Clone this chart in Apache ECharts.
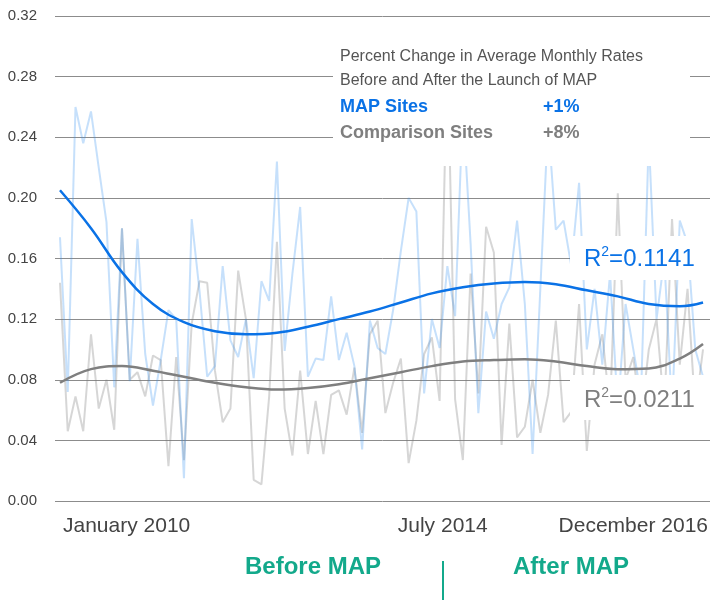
<!DOCTYPE html>
<html><head><meta charset="utf-8">
<script src="https://cdn.jsdelivr.net/npm/echarts@6/dist/echarts.min.js"></script>
<style>html,body{margin:0;padding:0;background:#fff}#c{width:727px;height:600px}</style>
</head><body><div id="c"></div>
<script>
// Monthly rates, January 2010 .. December 2016 (84 months)
const mapSites = [
  0.174,0.072,0.260,0.236,0.257,0.220,0.184,0.075,0.180,0.079,
  0.173,0.097,0.063,0.093,0.126,0.120,0.015,0.186,0.139,0.082,
  0.089,0.155,0.106,0.095,0.120,0.081,0.145,0.132,0.224,0.099,
  0.150,0.194,0.082,0.094,0.093,0.135,0.093,0.111,0.089,0.034,
  0.119,0.101,0.097,0.126,0.165,0.200,0.191,0.071,0.120,0.101,
  0.155,0.122,0.260,0.170,0.058,0.125,0.107,0.130,0.141,0.185,
  0.130,0.031,0.140,0.250,0.179,0.185,0.155,0.210,0.100,0.140,
  0.090,0.150,0.060,0.130,0.100,0.070,0.240,0.120,0.160,0.060,
  0.185,0.170,0.100,0.082
];
const comparisonSites = [
  0.144,0.046,0.069,0.046,0.110,0.061,0.080,0.047,0.180,0.080,
  0.085,0.069,0.096,0.093,0.023,0.095,0.027,0.117,0.145,0.144,
  0.086,0.052,0.061,0.152,0.120,0.014,0.011,0.069,0.171,0.061,
  0.030,0.086,0.031,0.066,0.031,0.070,0.073,0.057,0.088,0.045,
  0.110,0.119,0.058,0.078,0.094,0.025,0.053,0.097,0.108,0.066,
  0.300,0.067,0.027,0.150,0.071,0.181,0.164,0.037,0.117,0.042,
  0.049,0.080,0.045,0.070,0.119,0.052,0.059,0.130,0.033,0.090,
  0.110,0.060,0.203,0.080,0.095,0.055,0.100,0.120,0.060,0.186,
  0.090,0.140,0.060,0.100
];
// Fitted trend curves read at these month indices
const trendIdx = [0,4,8,12,16,20,24,28,32,36,40,44,48,52,56,60,64,68,72,76,80,83];
const mapTrend = [0.205,0.180,0.151,0.130,0.118,0.112,0.110,0.111,0.115,0.120,0.125,
  0.131,0.137,0.141,0.1435,0.1445,0.143,0.139,0.135,0.130,0.1285,0.131];
const compTrend = [0.078,0.087,0.089,0.086,0.082,0.078,0.075,0.0735,0.0745,0.077,0.081,
  0.085,0.089,0.092,0.093,0.0935,0.092,0.089,0.087,0.0875,0.094,0.1036];
const xTickLabels = ['January 2010','July 2014','December 2016'];
const xTickMonth = [8.6, 49.4, 74];
const yMin = 0, yMax = 0.32, yStep = 0.04;
const headerLines = ['Percent Change in Average Monthly Rates','Before and After the Launch of MAP'];
const seriesNames = ['MAP Sites','Comparison Sites'];
const changes = ['+1%','+8%'];
const r2Values = ['0.1141','0.0211'];
const periodLabels = ['Before MAP','After MAP'];

const BLUE = '#0a72e6', GRAY = '#7f7f7f', TEAL = '#13a98b';
const chart = echarts.init(document.getElementById('c'));
const pairs = (xs, ys) => ys.map((v, i) => [xs ? xs[i] : i, v]);
const FONT = 'Liberation Sans, Arial, sans-serif';
const r2Rich = c => ({
  a: { fill: c, fontSize: 24, fontFamily: FONT, verticalAlign: 'bottom', lineHeight: 26 },
  s: { fill: c, fontSize: 14, fontFamily: FONT, verticalAlign: 'top', lineHeight: 26 }
});

chart.setOption({
  animation: false,
  backgroundColor: '#fff',
  grid: { left: 55, right: 17, top: 16, bottom: 99 },
  xAxis: {
    type: 'value', min: -0.645, max: 83.9,
    axisLine: { show: false }, axisTick: { show: false }, splitLine: { show: false },
    axisLabel: {
      customValues: xTickMonth,
      formatter: v => xTickLabels[xTickMonth.indexOf(v)] || '',
      color: '#444', fontSize: 21, fontFamily: FONT, margin: 15
    }
  },
  yAxis: {
    type: 'value', min: yMin, max: yMax, interval: yStep,
    axisLine: { show: false }, axisTick: { show: false },
    axisLabel: { formatter: v => v.toFixed(2), color: '#444', fontSize: 15, fontFamily: FONT, margin: 18 },
    splitLine: { lineStyle: { color: '#8c8c8c', width: 1 } }
  },
  series: [
    { type: 'line', name: seriesNames[1], data: pairs(null, comparisonSites), showSymbol: false,
      lineStyle: { color: 'rgba(120,120,120,0.3)', width: 2 }, z: 2 },
    { type: 'line', name: seriesNames[0], data: pairs(null, mapSites), showSymbol: false,
      lineStyle: { color: 'rgba(50,145,240,0.28)', width: 2 }, z: 2 },
    { type: 'line', data: pairs(trendIdx, compTrend), smooth: 0.4, showSymbol: false,
      lineStyle: { color: GRAY, width: 2.5 }, z: 3 },
    { type: 'line', data: pairs(trendIdx, mapTrend), smooth: 0.4, showSymbol: false,
      lineStyle: { color: BLUE, width: 2.5 }, z: 3 }
  ],
  graphic: [
    { type: 'rect', z: 50, shape: { x: 333, y: 38, width: 357, height: 128 }, style: { fill: '#fff' } },
    { type: 'rect', z: 50, shape: { x: 570, y: 236, width: 145, height: 44 }, style: { fill: '#fff' } },
    { type: 'rect', z: 50, shape: { x: 570, y: 375, width: 145, height: 45 }, style: { fill: '#fff' } },
    { type: 'text', z: 60, x: 340, y: 57, style: { text: headerLines[0], fill: '#555', font: '16px ' + FONT, verticalAlign: 'middle' } },
    { type: 'text', z: 60, x: 340, y: 81, style: { text: headerLines[1], fill: '#555', font: '16px ' + FONT, verticalAlign: 'middle' } },
    { type: 'text', z: 60, x: 340, y: 107, style: { text: seriesNames[0], fill: BLUE, font: 'bold 18px ' + FONT, verticalAlign: 'middle' } },
    { type: 'text', z: 60, x: 543, y: 107, style: { text: changes[0], fill: BLUE, font: 'bold 18px ' + FONT, verticalAlign: 'middle' } },
    { type: 'text', z: 60, x: 340, y: 133, style: { text: seriesNames[1], fill: GRAY, font: 'bold 18px ' + FONT, verticalAlign: 'middle' } },
    { type: 'text', z: 60, x: 543, y: 133, style: { text: changes[1], fill: GRAY, font: 'bold 18px ' + FONT, verticalAlign: 'middle' } },
    { type: 'text', z: 60, x: 584, y: 258, style: { text: '{a|R}{s|2}{a|=' + r2Values[0] + '}', verticalAlign: 'middle', rich: r2Rich(BLUE) } },
    { type: 'text', z: 60, x: 584, y: 399, style: { text: '{a|R}{s|2}{a|=' + r2Values[1] + '}', verticalAlign: 'middle', rich: r2Rich(GRAY) } },
    { type: 'text', z: 60, x: 313, y: 567, style: { text: periodLabels[0], fill: TEAL, font: 'bold 24px ' + FONT, align: 'center', verticalAlign: 'middle' } },
    { type: 'text', z: 60, x: 571, y: 567, style: { text: periodLabels[1], fill: TEAL, font: 'bold 24px ' + FONT, align: 'center', verticalAlign: 'middle' } },
    { type: 'line', z: 60, shape: { x1: 443, y1: 561, x2: 443, y2: 600 }, style: { stroke: TEAL, lineWidth: 2 } }
  ]
});
</script></body></html>
